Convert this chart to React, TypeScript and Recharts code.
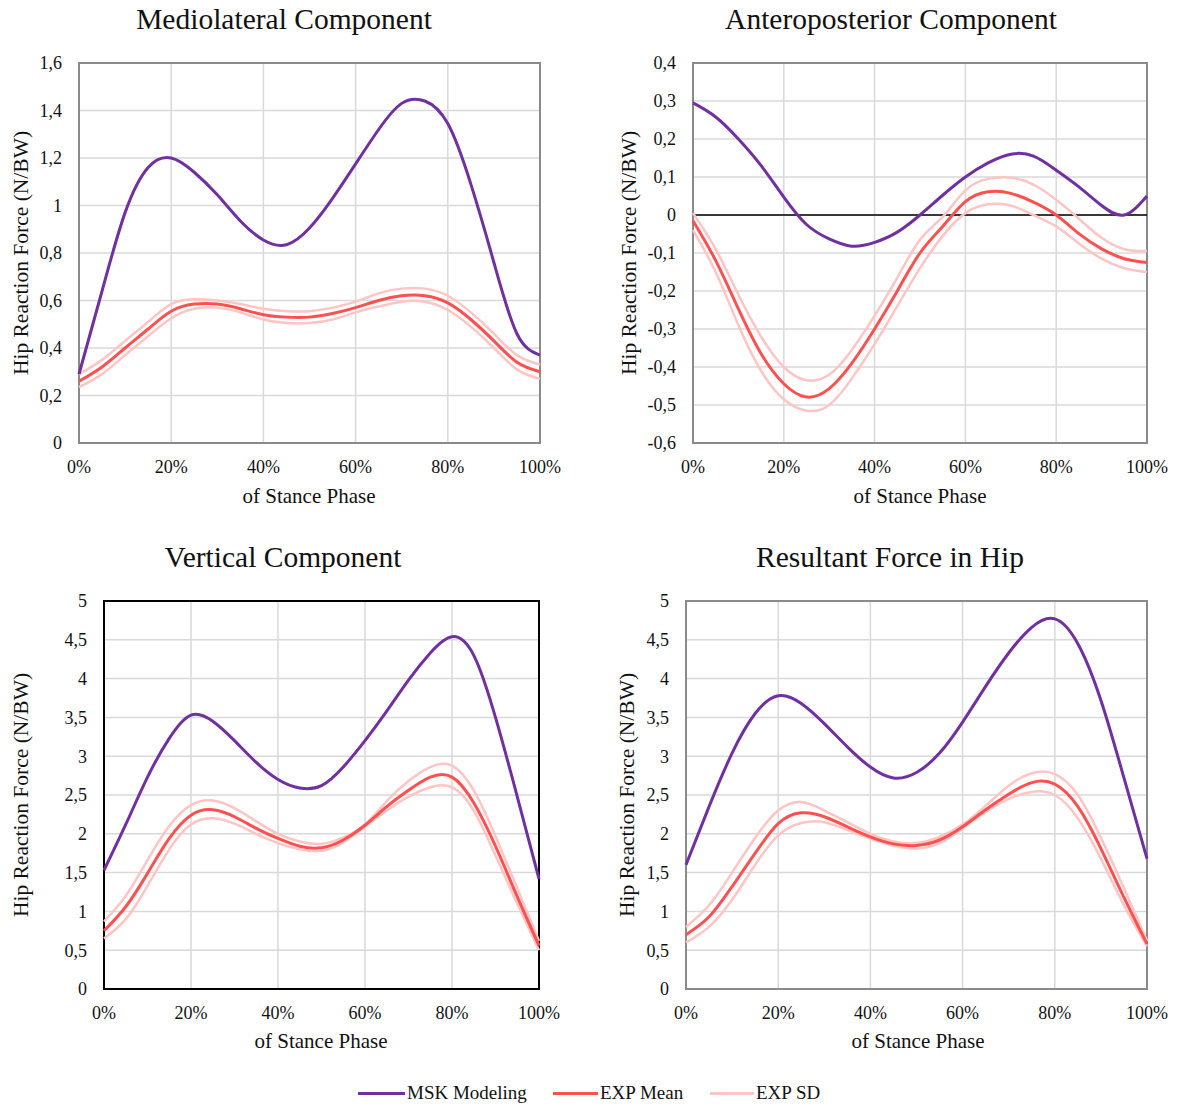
import React from "react"
import {
  LineChart,
  Line,
  XAxis,
  YAxis,
  CartesianGrid,
  ReferenceLine,
  ReferenceArea,
} from "recharts"

// x positions (% of stance phase)
const stance = [0, 5, 10, 15, 20, 25, 30, 35, 40, 45, 50, 55, 60, 65, 70, 75, 80, 85, 90, 95, 100]
const xTicks = [0, 20, 40, 60, 80, 100]

// Mediolateral
const mlMsk = [0.29, 0.64, 0.97, 1.16, 1.2, 1.14, 1.045, 0.935, 0.855, 0.835, 0.905, 1.03, 1.175, 1.32, 1.43, 1.44, 1.345, 1.09, 0.76, 0.46, 0.37]
const mlMean = [0.26, 0.32, 0.4, 0.48, 0.555, 0.585, 0.585, 0.565, 0.54, 0.53, 0.53, 0.545, 0.57, 0.6, 0.62, 0.62, 0.59, 0.52, 0.43, 0.34, 0.3]
const mlUpper = [0.29, 0.35, 0.43, 0.51, 0.585, 0.605, 0.6, 0.585, 0.565, 0.555, 0.555, 0.57, 0.595, 0.63, 0.65, 0.65, 0.62, 0.55, 0.46, 0.37, 0.33]
const mlLower = [0.235, 0.29, 0.37, 0.45, 0.525, 0.565, 0.57, 0.55, 0.52, 0.505, 0.505, 0.52, 0.55, 0.575, 0.595, 0.595, 0.56, 0.49, 0.4, 0.31, 0.27]
const mlTicks = [0, 0.2, 0.4, 0.6, 0.8, 1, 1.2, 1.4, 1.6]

// Anteroposterior
const apMsk = [0.295, 0.258, 0.2, 0.13, 0.047, -0.025, -0.063, -0.082, -0.072, -0.045, 0.0, 0.052, 0.1, 0.137, 0.16, 0.155, 0.118, 0.074, 0.025, 0.0, 0.05]
const apMean = [-0.015, -0.12, -0.247, -0.365, -0.444, -0.479, -0.457, -0.39, -0.3, -0.2, -0.1, -0.03, 0.035, 0.061, 0.057, 0.034, 0.0, -0.049, -0.089, -0.115, -0.125]
const apUpper = [0.005, -0.09, -0.21, -0.32, -0.4, -0.435, -0.42, -0.355, -0.265, -0.165, -0.065, -0.005, 0.065, 0.095, 0.098, 0.08, 0.04, -0.01, -0.06, -0.09, -0.095]
const apLower = [-0.04, -0.15, -0.29, -0.41, -0.485, -0.515, -0.5, -0.43, -0.34, -0.24, -0.14, -0.055, 0.005, 0.028, 0.025, 0.0, -0.03, -0.075, -0.115, -0.14, -0.15]
const apTicks = [-0.6, -0.5, -0.4, -0.3, -0.2, -0.1, 0, 0.1, 0.2, 0.3, 0.4]

// Vertical
const vMsk = [1.53, 2.12, 2.73, 3.23, 3.53, 3.45, 3.2, 2.92, 2.7, 2.59, 2.62, 2.86, 3.2, 3.58, 3.98, 4.33, 4.54, 4.3, 3.5, 2.48, 1.42]
const vMean = [0.75, 1.06, 1.49, 1.94, 2.24, 2.31, 2.22, 2.07, 1.94, 1.84, 1.82, 1.92, 2.11, 2.35, 2.56, 2.73, 2.73, 2.4, 1.84, 1.19, 0.56]
const vUpper = [0.87, 1.2, 1.66, 2.1, 2.37, 2.43, 2.33, 2.16, 2.0, 1.9, 1.87, 1.95, 2.12, 2.42, 2.68, 2.86, 2.88, 2.56, 1.97, 1.3, 0.62]
const vLower = [0.65, 0.9, 1.33, 1.8, 2.12, 2.2, 2.13, 2.0, 1.88, 1.8, 1.78, 1.89, 2.09, 2.3, 2.48, 2.6, 2.6, 2.3, 1.72, 1.1, 0.5]

// Resultant
const rMsk = [1.6, 2.35, 3.04, 3.55, 3.78, 3.68, 3.42, 3.12, 2.86, 2.72, 2.79, 3.04, 3.44, 3.9, 4.33, 4.66, 4.77, 4.45, 3.72, 2.72, 1.68]
const rMean = [0.7, 0.93, 1.32, 1.75, 2.13, 2.27, 2.22, 2.09, 1.96, 1.87, 1.85, 1.92, 2.09, 2.31, 2.51, 2.66, 2.64, 2.35, 1.81, 1.18, 0.58]
const rUpper = [0.8, 1.08, 1.5, 1.95, 2.3, 2.41, 2.3, 2.15, 2.0, 1.9, 1.88, 1.96, 2.12, 2.36, 2.62, 2.78, 2.77, 2.5, 1.95, 1.3, 0.62]
const rLower = [0.6, 0.8, 1.15, 1.6, 1.98, 2.14, 2.15, 2.05, 1.94, 1.85, 1.81, 1.88, 2.07, 2.28, 2.45, 2.54, 2.5, 2.2, 1.68, 1.08, 0.55]
const fiveTicks = [0, 0.5, 1, 1.5, 2, 2.5, 3, 3.5, 4, 4.5, 5]

const FONT = '"Liberation Serif", "Times New Roman", serif'
const MSK = "#7030A0"
const MEAN = "#FF5050"
const SD = "#FFC4C4"

function rows(msk: number[], mean: number[], upper: number[], lower: number[]) {
  return stance.map((x, i) => ({ x, msk: msk[i], mean: mean[i], upper: upper[i], lower: lower[i] }))
}

const comma = (v: number) => String(v).replace(".", ",")

// serif tick labels (x: centred under tick, y: right-aligned and centred)
function XTick({ x, y, payload }: any) {
  return (
    <text x={x} y={y} dy="0.71em" textAnchor="middle" fontFamily={FONT} fontSize={18} fill="#111">
      {`${payload.value}%`}
    </text>
  )
}

function YTick({ x, y, payload }: any) {
  return (
    <text x={x} y={y} dy="0.35em" textAnchor="end" fontFamily={FONT} fontSize={18} fill="#111">
      {comma(payload.value)}
    </text>
  )
}

type Box = { left: number; top: number; w: number; h: number }

function Panel({
  box,
  data,
  ticks,
  frame,
  zeroLine,
}: {
  box: Box
  data: any[]
  ticks: number[]
  frame: string
  zeroLine?: boolean
}) {
  const lo = ticks[0]
  const hi = ticks[ticks.length - 1]
  return (
    <div style={{ position: "absolute", left: box.left - 80, top: box.top - 20 }}>
      <LineChart
        width={box.w + 110}
        height={box.h + 60}
        data={data}
        margin={{ top: 20, right: 30, bottom: 0, left: 0 }}
      >
        <CartesianGrid stroke="#d9d9d9" strokeWidth={1.5} />
        <XAxis
          type="number"
          dataKey="x"
          domain={[0, 100]}
          ticks={xTicks}
          interval={0}
          height={40}
          axisLine={false}
          tickLine={false}
          tickMargin={11}
          tick={<XTick />}
        />
        <YAxis
          type="number"
          domain={[lo, hi]}
          ticks={ticks}
          interval={0}
          width={80}
          axisLine={false}
          tickLine={false}
          tickMargin={11}
          tick={<YTick />}
        />
        <ReferenceArea x1={0} x2={100} y1={lo} y2={hi} fill="none" stroke={frame} strokeWidth={2} />
        {zeroLine && <ReferenceLine y={0} stroke="#000" strokeWidth={1.5} />}
        <Line type="natural" dataKey="upper" stroke={SD} strokeWidth={2.5} dot={false} isAnimationActive={false} />
        <Line type="natural" dataKey="lower" stroke={SD} strokeWidth={2.5} dot={false} isAnimationActive={false} />
        <Line type="natural" dataKey="mean" stroke={MEAN} strokeWidth={3} dot={false} isAnimationActive={false} />
        <Line type="natural" dataKey="msk" stroke={MSK} strokeWidth={3} dot={false} isAnimationActive={false} />
      </LineChart>
    </div>
  )
}

function Text({ x, y, size, children, rotate }: { x: number; y: number; size: number; children: React.ReactNode; rotate?: boolean }) {
  return (
    <div
      style={{
        position: "absolute",
        left: x,
        top: y,
        transform: `translate(-50%, -50%)${rotate ? " rotate(-90deg)" : ""}`,
        fontFamily: FONT,
        fontSize: size,
        color: "#111",
        whiteSpace: "nowrap",
        lineHeight: 1,
      }}
    >
      {children}
    </div>
  )
}

function LegendItem({ x, color, label, width }: { x: number; color: string; label: string; width: number }) {
  return (
    <div style={{ position: "absolute", left: x, top: 1083, display: "flex", alignItems: "center", height: 20 }}>
      <div style={{ width: width, height: 3, background: color }} />
      <span style={{ fontFamily: FONT, fontSize: 19, color: "#111", marginLeft: 2 }}>{label}</span>
    </div>
  )
}

export default function App() {
  const yLabel = "Hip Reaction Force (N/BW)"
  return (
    <div style={{ position: "absolute", left: 0, top: 0, width: 1180, height: 1106, background: "#fff", overflow: "hidden" }}>
      <Text x={284} y={20} size={29.5}>Mediolateral Component</Text>
      <Text x={891} y={20} size={29.5}>Anteroposterior Component</Text>
      <Text x={283} y={558} size={29.5}>Vertical Component</Text>
      <Text x={890} y={558} size={29.5}>Resultant Force in Hip</Text>

      <Panel box={{ left: 79, top: 63, w: 461, h: 380 }} data={rows(mlMsk, mlMean, mlUpper, mlLower)} ticks={mlTicks} frame="#8a8a8a" />
      <Panel box={{ left: 693, top: 63, w: 454, h: 380 }} data={rows(apMsk, apMean, apUpper, apLower)} ticks={apTicks} frame="#8a8a8a" zeroLine />
      <Panel box={{ left: 104, top: 601, w: 435, h: 388 }} data={rows(vMsk, vMean, vUpper, vLower)} ticks={fiveTicks} frame="#000" />
      <Panel box={{ left: 686, top: 601, w: 461, h: 388 }} data={rows(rMsk, rMean, rUpper, rLower)} ticks={fiveTicks} frame="#8a8a8a" />

      <Text x={22} y={253} size={21.5} rotate>{yLabel}</Text>
      <Text x={630} y={253} size={21.5} rotate>{yLabel}</Text>
      <Text x={22} y={795} size={21.5} rotate>{yLabel}</Text>
      <Text x={628} y={795} size={21.5} rotate>{yLabel}</Text>

      <Text x={309} y={496} size={21}>of Stance Phase</Text>
      <Text x={920} y={496} size={21}>of Stance Phase</Text>
      <Text x={321} y={1041} size={21}>of Stance Phase</Text>
      <Text x={918} y={1041} size={21}>of Stance Phase</Text>

      <LegendItem x={358} color={MSK} label="MSK Modeling" width={47} />
      <LegendItem x={553} color={MEAN} label="EXP Mean" width={45} />
      <LegendItem x={710} color={SD} label="EXP SD" width={44} />
    </div>
  )
}
